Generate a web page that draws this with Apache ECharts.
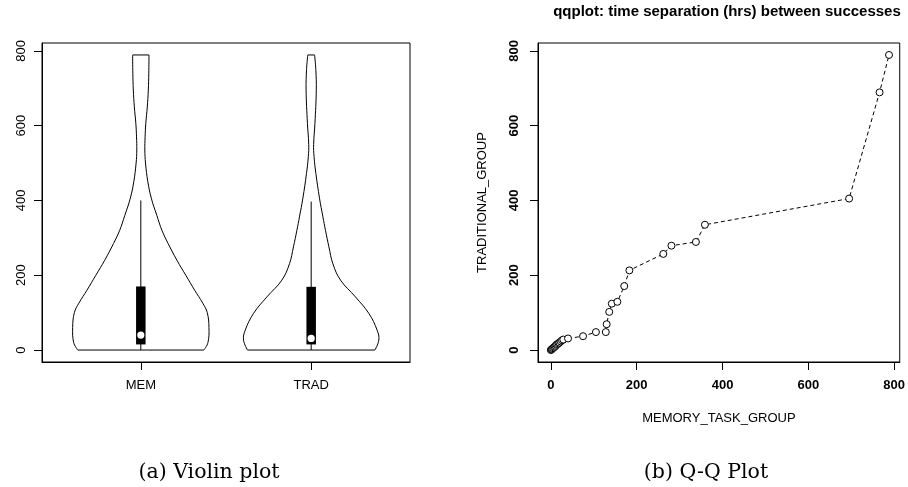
<!DOCTYPE html>
<html><head><meta charset="utf-8">
<script src="https://cdn.jsdelivr.net/npm/echarts@6/dist/echarts.min.js"></script>
<style>html,body{margin:0;padding:0;background:#fff}#c{width:908px;height:487px}</style>
</head><body><div id="c"></div>
<script>
// ---- data ----
const groups = ['MEM', 'TRAD'];
const groupPos = [1, 2];
// violin outline: levels (hrs) and relative density (1 = widest)
const memLevels  = [0, 20, 60, 100, 125, 160, 200, 240, 285, 320, 360, 406, 450, 500, 535, 570, 606, 650, 695, 740, 789];
const memDensity = [0.925, 0.985, 1.0, 0.975, 0.91, 0.79, 0.66, 0.53, 0.40, 0.31, 0.235, 0.154, 0.103, 0.069, 0.059, 0.063, 0.073, 0.095, 0.11, 0.117, 0.12];
const tradLevels  = [0, 27, 53, 98, 142, 187, 231, 276, 320, 356, 406, 472, 517, 550, 606, 695, 750, 789];
const tradDensity = [0.935, 0.993, 0.968, 0.846, 0.65, 0.43, 0.318, 0.26, 0.21, 0.172, 0.122, 0.069, 0.042, 0.036, 0.055, 0.075, 0.068, 0.05];
// box plot statistics per group
const boxQ1 = [15, 15];
const boxQ3 = [170, 169];
const boxMedian = [40, 31];
const whiskerLow = [0, 0];
const whiskerHigh = [400, 397];
// Q-Q plot sorted quantiles
const qqMem  = [0, 1, 2, 3, 5, 7, 9, 11, 13, 15, 18, 20, 23, 26, 29, 40, 75, 105, 128, 130, 136, 142, 155, 171, 183, 262, 281, 338, 359, 695, 766, 788];
const qqTrad = [0, 1, 2, 3, 5, 7, 9, 11, 14, 16, 18, 20, 23, 26, 28, 31, 37, 48, 48, 69, 102, 124, 129, 171, 213, 257, 279, 289, 335, 405, 689, 789];
const yTicks = [0, 200, 400, 600, 800];
const xTicksQQ = [0, 200, 400, 600, 800];

// ---- chart ----
const chart = echarts.init(document.getElementById('c'), null, {renderer: 'canvas'});
const SANS = '"Liberation Sans", Arial, Helvetica, sans-serif';
const SERIF = '"DejaVu Serif", "Liberation Serif", serif';
const violins = [
  {levels: memLevels, density: memDensity},
  {levels: tradLevels, density: tradDensity}
];
const MAXHW = 0.4;

function renderViolin(params, api) {
  const i = params.dataIndex;
  const pos = api.value(0);
  const v = violins[i];
  const left = [], right = [];
  for (let k = 0; k < v.levels.length; k++) {
    left.push(api.coord([pos - v.density[k] * MAXHW, v.levels[k]]));
    right.push(api.coord([pos + v.density[k] * MAXHW, v.levels[k]]));
  }
  const n = left.length - 1;
  const q1 = api.coord([pos, boxQ1[i]]), q3 = api.coord([pos, boxQ3[i]]);
  const med = api.coord([pos, boxMedian[i]]);
  const wl = api.coord([pos, whiskerLow[i]]), wh = api.coord([pos, whiskerHigh[i]]);
  const bw = 9.5;
  const ls = {stroke: '#000', lineWidth: 1, fill: null};
  return {type: 'group', children: [
    {type: 'polyline', shape: {points: left, smooth: 0.4}, style: ls},
    {type: 'polyline', shape: {points: right, smooth: 0.4}, style: ls},
    {type: 'line', shape: {x1: left[0][0], y1: left[0][1], x2: right[0][0], y2: right[0][1]}, style: ls},
    {type: 'line', shape: {x1: left[n][0], y1: left[n][1], x2: right[n][0], y2: right[n][1]}, style: ls},
    {type: 'line', shape: {x1: wl[0], y1: wl[1], x2: wh[0], y2: wh[1]}, style: ls},
    {type: 'rect', shape: {x: q3[0] - bw / 2, y: q3[1], width: bw, height: q1[1] - q3[1]}, style: {fill: '#000'}},
    {type: 'circle', shape: {cx: med[0], cy: med[1], r: 3.6}, style: {fill: '#fff'}}
  ]};
}

const blackLine = {lineStyle: {color: '#000', width: 1}};
const axLine = {show: true, onZero: false, lineStyle: {color: '#000', width: 1}};
const option = {
  backgroundColor: '#fff',
  animation: false,
  grid: [
    {left: 42, top: 43, width: 368, height: 319, show: true, borderColor: '#000', borderWidth: 1, backgroundColor: 'transparent'},
    {left: 538, top: 43, width: 365, height: 319, show: true, borderColor: '#000', borderWidth: 1, backgroundColor: 'transparent'}
  ],
  xAxis: [
    {gridIndex: 0, type: 'value', min: 0.42, max: 2.58, position: 'bottom',
      axisLine: axLine, splitLine: {show: false},
      axisTick: {show: true, inside: false, length: 8, customValues: groupPos, ...blackLine},
      axisLabel: {customValues: groupPos, formatter: v => groups[Math.round(v) - 1], margin: 17,
        color: '#000', fontSize: 13, fontFamily: SANS}},
    {gridIndex: 1, type: 'value', min: -30, max: 813, position: 'bottom',
      name: 'MEMORY_TASK_GROUP', nameLocation: 'middle', nameGap: 50,
      nameTextStyle: {color: '#000', fontSize: 13, fontFamily: SANS},
      axisLine: axLine, splitLine: {show: false},
      axisTick: {show: true, inside: false, length: 8, customValues: xTicksQQ, ...blackLine},
      axisLabel: {customValues: xTicksQQ, margin: 17, color: '#000', fontSize: 13, fontWeight: 'bold', fontFamily: SANS}}
  ],
  yAxis: [
    {gridIndex: 0, type: 'value', min: -32, max: 821, position: 'left',
      axisLine: axLine, splitLine: {show: false},
      axisTick: {show: true, inside: false, length: 8, customValues: yTicks, ...blackLine},
      axisLabel: {customValues: yTicks, rotate: 90, margin: 14, color: '#000', fontSize: 13, fontFamily: SANS}},
    {gridIndex: 1, type: 'value', min: -32, max: 821, position: 'left',
      name: 'TRADITIONAL_GROUP', nameLocation: 'middle', nameGap: 49, nameRotate: 90,
      nameTextStyle: {color: '#000', fontSize: 13, fontFamily: SANS},
      axisLine: axLine, splitLine: {show: false},
      axisTick: {show: true, inside: false, length: 8, customValues: yTicks, ...blackLine},
      axisLabel: {customValues: yTicks, rotate: 90, margin: 17, color: '#000', fontSize: 13, fontWeight: 'bold', fontFamily: SANS}}
  ],
  graphic: [
    {type: 'text', x: 727, y: 12, style: {text: 'qqplot: time separation (hrs) between successes', font: 'bold 15px ' + SANS, fill: '#000', align: 'center', verticalAlign: 'middle'}},
    {type: 'text', x: 209, y: 473, style: {text: '(a) Violin plot', font: '20.5px ' + SERIF, fill: '#000', align: 'center', verticalAlign: 'middle'}},
    {type: 'text', x: 706, y: 473, style: {text: '(b) Q-Q Plot', font: '20.5px ' + SERIF, fill: '#000', align: 'center', verticalAlign: 'middle'}}
  ],
  series: [
    {type: 'custom', xAxisIndex: 0, yAxisIndex: 0, renderItem: renderViolin,
      data: groupPos.map(p => [p, 0]), silent: true},
    {type: 'line', xAxisIndex: 1, yAxisIndex: 1,
      data: qqMem.map((m, k) => [m, qqTrad[k]]),
      showSymbol: false,
      lineStyle: {color: '#000', width: 1, type: [4, 3]},
      silent: true, z: 2},
    {type: 'scatter', xAxisIndex: 1, yAxisIndex: 1,
      data: qqMem.map((m, k) => [m, qqTrad[k]]),
      symbol: 'circle', symbolSize: 7,
      itemStyle: {color: '#fff', borderColor: '#000', borderWidth: 1, opacity: 1},
      silent: true, z: 3}
  ]
};
chart.setOption(option);
</script>
</body></html>
